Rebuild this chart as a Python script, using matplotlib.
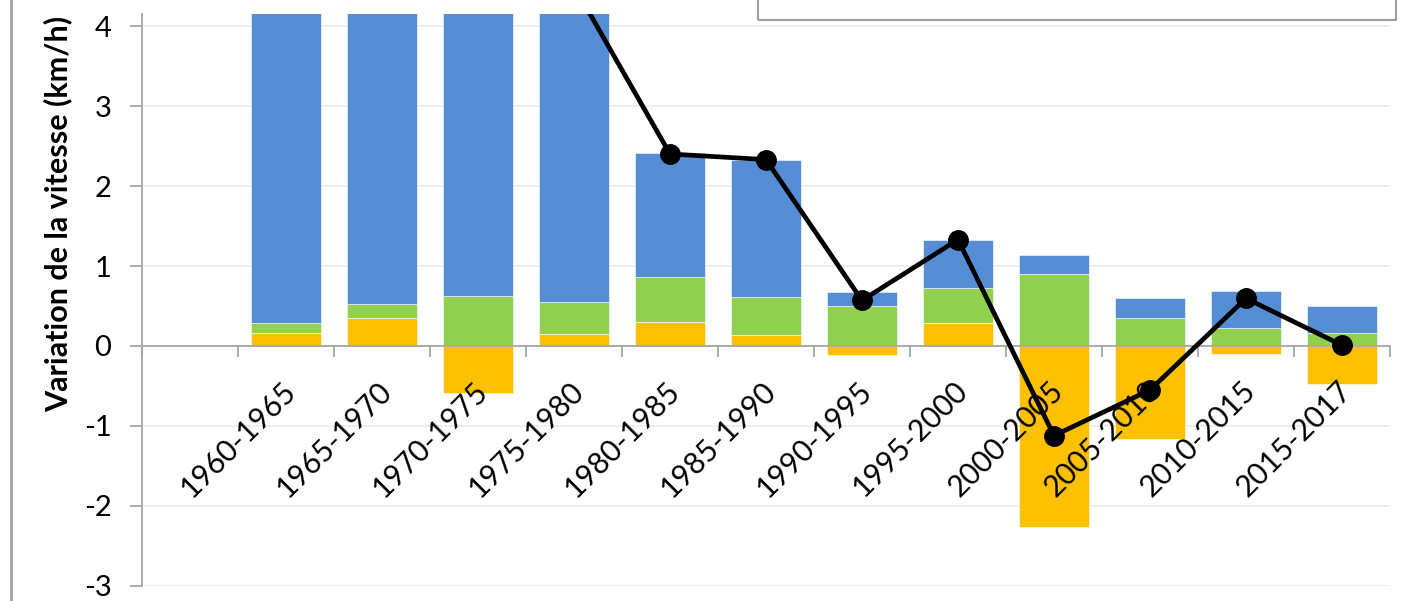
import numpy as np
import matplotlib
matplotlib.use("Agg")
import matplotlib.pyplot as plt
from matplotlib.patches import Rectangle
from matplotlib.lines import Line2D
from matplotlib.transforms import ScaledTranslation

plt.rcParams["font.family"] = ["Lato", "DejaVu Sans"]
plt.rcParams["axes.unicode_minus"] = False

# Periods (first slot is left empty on the category axis)
periods = ["", "1960-1965", "1965-1970", "1970-1975", "1975-1980", "1980-1985",
           "1985-1990", "1990-1995", "1995-2000", "2000-2005", "2005-2010",
           "2010-2015", "2015-2017"]

# Contributions to the speed change (km/h), one value per period
orange_part = [np.nan, 0.16, 0.35, -0.59, 0.155, 0.30, 0.135, -0.11, 0.285, -2.26, -1.16, -0.095, -0.48]
green_part = [np.nan, 0.13, 0.18, 0.63, 0.40, 0.565, 0.48, 0.50, 0.435, 0.90, 0.35, 0.23, 0.165]
blue_part = [np.nan, 11.6, 9.7, 7.35, 3.95, 1.545, 1.705, 0.18, 0.60, 0.24, 0.25, 0.46, 0.33]

# Net change
net_change = [np.nan, 11.9, 10.2, 7.4, 4.5, 2.40, 2.33, 0.57, 1.33, -1.12, -0.55, 0.595, 0.01]

c_orange = "#FFC000"
c_green = "#92D050"
c_blue = "#558ED5"

fig = plt.figure(figsize=(14.23, 6.01), dpi=100)
ax = fig.add_axes([142 / 1423, 15 / 601, 1248 / 1423, 572 / 601])

x = np.arange(len(periods))
orange = np.array(orange_part)
green = np.array(green_part)
blue = np.array(blue_part)

green_base = np.where(orange > 0, orange, 0)
blue_base = green_base + green

w = 0.72
ax.bar(x, orange, w, color=c_orange, edgecolor="white", linewidth=0.4, zorder=2)
ax.bar(x, green, w, bottom=green_base, color=c_green, edgecolor="white", linewidth=0.4, zorder=2)
ax.bar(x, blue, w, bottom=blue_base, color=c_blue, edgecolor="white", linewidth=0.4, zorder=2)
ax.plot(x, net_change, color="black", linewidth=3.4, marker="o", markersize=14, zorder=4)

ax.set_xlim(-0.5, len(periods) - 0.5)
ax.set_ylim(-3, 4.15)
ax.set_yticks(range(-3, 5))

# horizontal gridlines behind the bars; axis and its labels drawn above the bars
for t in ax.get_yticks():
    ax.axhline(t, color="#EDEDED", linewidth=1.3, zorder=0.5)
ax.set_axisbelow(False)

# category axis sits on y = 0, ticks between periods, labels at centres
ax.spines["bottom"].set_position(("data", 0))
for s in ["top", "right"]:
    ax.spines[s].set_visible(False)
for s in ["left", "bottom"]:
    ax.spines[s].set_color("#A6A6A6")
    ax.spines[s].set_linewidth(1.3)
    ax.spines[s].set_zorder(2.5)

ax.set_xticks(np.arange(-0.5, len(periods)), minor=False)
ax.set_xticklabels([], minor=False)
ax.set_xticks(x, minor=True)
ax.set_xticklabels(periods, minor=True, rotation=45, ha="right", va="center",
                   rotation_mode="anchor", fontsize=21.5)
ax.tick_params(axis="x", which="major", direction="out", length=8, color="#A6A6A6", width=1.3)
ax.tick_params(axis="x", which="minor", length=0, pad=29)
ax.tick_params(axis="y", direction="out", length=9, color="#A6A6A6", width=1.3,
               labelsize=21, pad=13)
for lab in ax.get_xticklabels(minor=True):
    lab.set_transform(lab.get_transform() + ScaledTranslation(5 / 100, 0, fig.dpi_scale_trans))

fig.text(58 / 1423, (601 - 412) / 601, "Variation de la vitesse (km/h)", rotation=90,
         ha="center", va="bottom", fontsize=22, fontweight="bold",
         family=["Liberation Sans Narrow", "Lato", "DejaVu Sans"])

# legend frame and outer border
fig.patches.append(Rectangle((758 / 1423, 581 / 601), 638 / 1423, 0.1, transform=fig.transFigure,
                             fill=False, edgecolor="#A0A0A0", linewidth=1.5))
fig.lines.append(Line2D([11 / 1423, 11 / 1423], [0, 1], transform=fig.transFigure,
                        color="#A0A0A0", linewidth=2))

fig.savefig("out.png", dpi=100)
